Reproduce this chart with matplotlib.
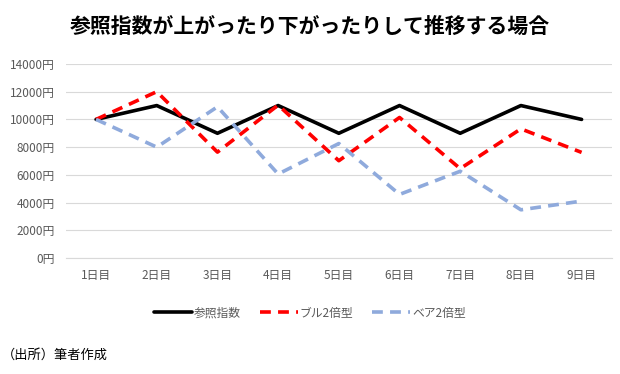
import matplotlib.pyplot as plt
from matplotlib.ticker import FuncFormatter

plt.rcParams['font.family'] = ['Noto Sans CJK JP', 'DejaVu Sans']

days = ['1日目', '2日目', '3日目', '4日目', '5日目', '6日目', '7日目', '8日目', '9日目']
index_vals = [10000, 11000, 9000, 11000, 9000, 11000, 9000, 11000, 10000]
bull_vals = [10000, 12000, 7640, 11030, 7020, 10140, 6450, 9320, 7620]
bear_vals = [10000, 8000, 10910, 6060, 8260, 4590, 6260, 3480, 4110]

fig = plt.figure(figsize=(6.2, 3.74), dpi=100)
ax = fig.add_axes([0.106, 0.310, 0.881, 0.519])

x = range(len(days))
ax.plot(x, index_vals, color='black', lw=2.6, label='参照指数', solid_capstyle='round')
ax.plot(x, bull_vals, color='#ff0000', lw=2.6, dashes=(3, 2), label='ブル2倍型')
ax.plot(x, bear_vals, color='#8faadc', lw=2.6, dashes=(3, 2), label='ベア2倍型')

ax.set_xlim(-0.5, len(days) - 0.5)
ax.set_ylim(0, 14000)
ax.set_yticks(range(0, 14001, 2000))
ax.yaxis.set_major_formatter(FuncFormatter(lambda v, p: f'{int(v)}円'))
ax.set_xticks(list(x))
ax.set_xticklabels(days)
ax.grid(axis='y', color='#d9d9d9', lw=0.8)
ax.set_axisbelow(True)
for s in ax.spines.values():
    s.set_visible(False)
ax.spines['bottom'].set_visible(True)
ax.spines['bottom'].set_color('#d9d9d9')
ax.tick_params(length=0, labelsize=8.5, colors='#595959', pad=8)

fig.text(0.5, 0.93, '参照指数が上がったり下がったりして推移する場合', ha='center', va='center',
         fontsize=15, fontweight='bold')
fig.legend(loc='center', bbox_to_anchor=(0.5, 0.163), ncol=3, frameon=False, fontsize=8.5,
           handlelength=3.2, handletextpad=0.2, columnspacing=1.6, labelcolor='#595959')
fig.text(0.003, 0.05, '（出所）筆者作成', ha='left', va='center', fontsize=9.5)

fig.savefig('out.png', dpi=100)
